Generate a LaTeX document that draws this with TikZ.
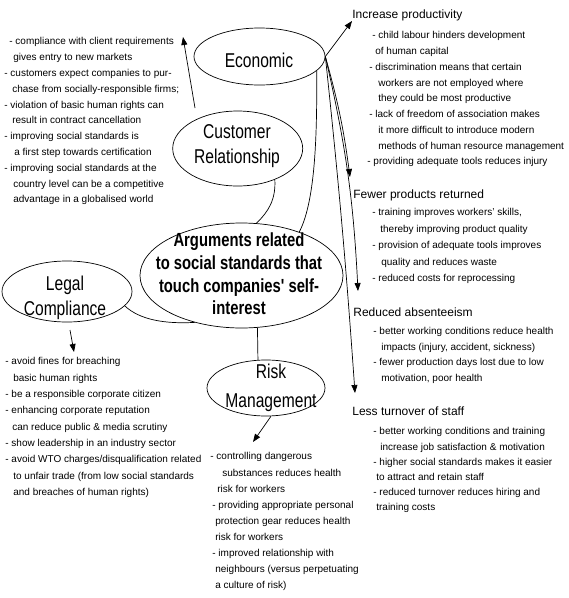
\documentclass[tikz,border=0pt]{standalone}
\usepackage{fontspec}
\setmainfont{Liberation Sans}
\newfontfamily\ellfont[FakeStretch=0.78]{Liberation Sans}
\usetikzlibrary{shapes.geometric,arrows.meta}
\begin{document}
\begin{tikzpicture}[x=1pt,y=-1pt, line width=0.7pt,
 ell/.style={draw, ellipse, inner sep=0pt},
 elltext/.style={font=\ellfont\fontsize{20}{#1}\selectfont, align=center, inner sep=0pt},
 lst/.style={font=\fontsize{10}{#1}\selectfont, align=left, anchor=north west, inner sep=0pt},
 head/.style={font=\fontsize{12}{15}\selectfont, anchor=base west, inner sep=0pt},
 arr/.style={-{Triangle[length=8pt,width=6pt]}}]
\fill[white] (0,0) rectangle (569,598);
\useasboundingbox (0,0) rectangle (569,598);
% ellipses
\node[ell, minimum width=131pt, minimum height=57pt] (eco) at (259.5,56.5) {};
\node[elltext=25] (ecot) at (259,60) {Economic};
\node[ell, minimum width=130pt, minimum height=75pt] (cr) at (237.7,148.5) {};
\node[elltext=25] (crt) at (237,146.5) {Customer\\Relationship};
\node[ell, minimum width=203pt, minimum height=105pt] (main) at (241.5,275.5) {};
\node[font=\ellfont\bfseries\fontsize{19}{22.7}\selectfont, align=center, inner sep=0pt] (maint) at (239,274) {Arguments related\\to social standards that\\touch companies' self-\\interest};
\node[ell, minimum width=130pt, minimum height=61pt] (legal) at (67,291.5) {};
\node[elltext=25.5] (legalt) at (65,298) {Legal\\Compliance};
\node[ell, minimum width=118pt, minimum height=56pt] (risk) at (266,388) {};
\node[elltext=29] (riskt) at (271,388) {Risk\\Management};
% text blocks
\node[lst=15.8] (tl) at (4,37.3) {\hspace*{5pt}- compliance with client requirements\\
\hspace*{9pt}gives entry to new markets\\
- customers expect companies to pur-\\
\hspace*{8pt}chase from socially-responsible firms;\\
- violation of basic human rights can\\
\hspace*{8pt}result in contract cancellation\\
- improving social standards is\\
\hspace*{10pt}a first step towards certification\\
- improving social standards at the\\
\hspace*{9pt}country level can be a competitive\\
\hspace*{9pt}advantage in a globalised world};
\node[head] (hinc) at (352,18.1) {Increase productivity};
\node[lst=15.75] (linc) at (367,31.3) {\hspace*{5pt}- child labour hinders development\\
\hspace*{8pt}of human capital\\
\hspace*{2pt}- discrimination means that certain\\
\hspace*{11pt}workers are not employed where\\
\hspace*{11pt}they could be most productive\\
\hspace*{2pt}- lack of freedom of association makes\\
\hspace*{11pt}it more difficult to introduce modern\\
\hspace*{11pt}methods of human resource management\\
- providing adequate tools reduces injury};
\node[head] (hfew) at (353,198.1) {Fewer products returned};
\node[lst=16.5] (lfew) at (372,208.3) {- training improves workers' skills,\\
\hspace*{8pt}thereby improving product quality\\
- provision of adequate tools improves\\
\hspace*{9pt}quality and reduces waste\\
- reduced costs for reprocessing};
\node[head] (hred) at (353,316.1) {Reduced absenteeism};
\node[lst=15.5] (lred) at (373,327.3) {- better working conditions reduce health\\
\hspace*{8pt}impacts (injury, accident, sickness)\\
- fewer production days lost due to low\\
\hspace*{8pt}motivation, poor health};
\node[head] (hless) at (352,415.1) {Less turnover of staff};
\node[lst=15.2] (lless) at (373,427.3) {- better working conditions and training\\
\hspace*{7pt}increase job satisfaction \& motivation\\
- higher social standards makes it easier\\
\hspace*{3pt}to attract and retain staff\\
- reduced turnover reduces hiring and\\
\hspace*{3pt}training costs};
\node[lst=16.3] (llegal) at (5,357.3) {- avoid fines for breaching\\
\hspace*{8pt}basic human rights\\
- be a responsible corporate citizen\\
- enhancing corporate reputation\\
\hspace*{7pt}can reduce public \& media scrutiny\\
- show leadership in an industry sector\\
- avoid WTO charges/disqualification related\\
\hspace*{8pt}to unfair trade (from low social standards\\
\hspace*{8pt}and breaches of human rights)};
\node[lst=16.1] (lrisk) at (210,452.3) {- controlling dangerous\\
\hspace*{12pt}substances reduces health\\
\hspace*{7pt}risk for workers\\
\hspace*{2pt}- providing appropriate personal\\
\hspace*{5pt}protection gear reduces health\\
\hspace*{5pt}risk for workers\\
\hspace*{2pt}- improved relationship with\\
\hspace*{5pt}neighbours (versus perpetuating\\
\hspace*{5pt}a culture of risk)};
% free ends
\coordinate (tipinc) at (352,21);
\coordinate (tipfew) at (350,177);
\coordinate (tipred) at (358,291);
\coordinate (tipless) at (355,393);
\coordinate (crs) at (195,108);
\coordinate (crtip) at (183,37);
\coordinate (legs) at (70,330);
\coordinate (legtip) at (74,352);
\coordinate (risktip) at (253,442);
% connectors
\draw[arr] (eco.east) -- (tipinc);
\draw[arr] (eco.east) to[bend left=4] (tipfew);
\draw[arr] (eco.east) to[bend left=5] (tipred);
\draw[arr] (eco.east) to[bend left=1] (tipless);
\draw (eco.-14) .. controls (317,130) and (316,200) .. (main.37);
\draw (cr.-40) .. controls (276,200) and (268,212) .. (main.74);
\draw (legal.-14) .. controls (140,320) and (165,324) .. (main.-135);
\draw (main.-73) -- (risk.106);
\draw[arr] (crs) -- (crtip);
\draw[arr] (legs) -- (legtip);
\draw[arr] (risk.-80) -- (risktip);
\end{tikzpicture}
\end{document}
